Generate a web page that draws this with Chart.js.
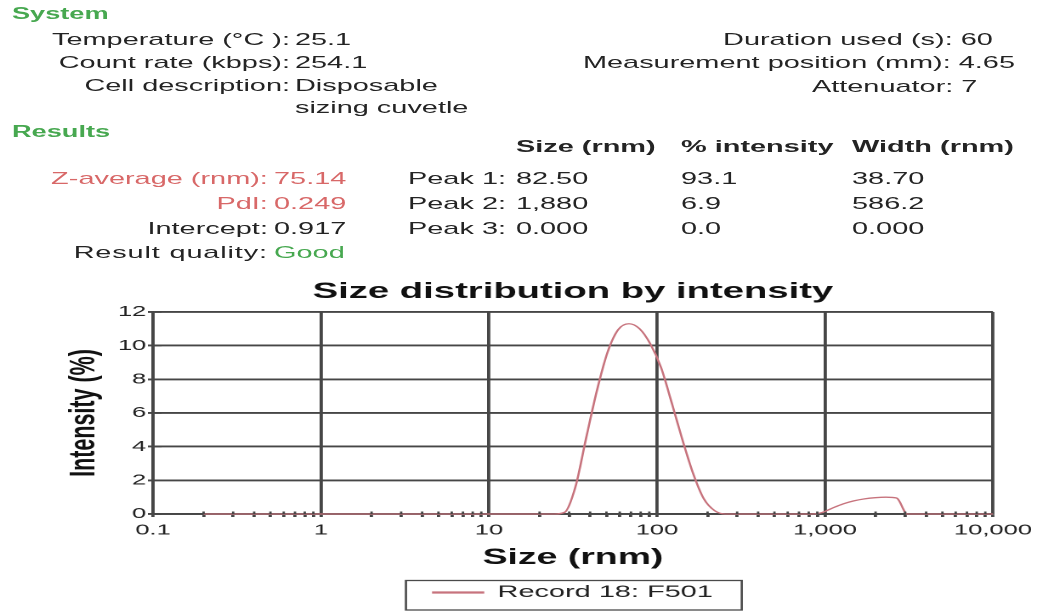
<!DOCTYPE html>
<html>
<head>
<meta charset="utf-8">
<script src="https://cdn.jsdelivr.net/npm/chart.js@4.4.1/dist/chart.umd.min.js"></script>
<style>
  html, body { margin: 0; padding: 0; background: #fff; overflow: hidden; width: 1040px; height: 611px; }
  /* report page is laid out narrow and widened horizontally */
  #page { position: absolute; left: 0; top: 0; width: 611.76px; height: 611px;
          transform: scaleX(1.7); transform-origin: 0 0;
          font-family: 'Liberation Sans', Arial, sans-serif; color: #242424; }
  .t { position: absolute; white-space: nowrap; font-size: 17px; line-height: 20px; height: 20px; }
  .ra { transform: translateX(-100%); }
  .b { font-weight: bold; }
  .sec { font-size: 16px; font-weight: bold; color: #47a850; }
  .g { color: #47a850; }
  .red { color: #d86868; }
  .wide { letter-spacing: 0.5px; }
  #plot { position: absolute; left: 20px; top: 270px; }
</style>
</head>
<body>
<div id="page">
  <div class="t sec" style="left:7px;top:4px;">System</div>
  <div class="t ra" style="left:170.6px;top:30px;">Temperature (°C ):</div>
  <div class="t" style="left:173.5px;top:30px;">25.1</div>
  <div class="t ra" style="left:170.6px;top:53px;">Count rate (kbps):</div>
  <div class="t" style="left:173.5px;top:53px;">254.1</div>
  <div class="t ra" style="left:170.6px;top:76px;">Cell description:</div>
  <div class="t" style="left:173.5px;top:76px;">Disposable</div>
  <div class="t" style="left:173.5px;top:98px;">sizing cuvetle</div>

  <div class="t" style="left:425.3px;top:30px;">Duration used (s): 60</div>
  <div class="t" style="left:342.9px;top:53px;">Measurement position (mm): 4.65</div>
  <div class="t" style="left:477.6px;top:77px;">Attenuator: 7</div>

  <div class="t sec" style="left:7px;top:122px;">Results</div>
  <div class="t b" style="left:303.5px;top:137px;">Size (rnm)</div>
  <div class="t b" style="left:400.6px;top:137px;">% intensity</div>
  <div class="t b" style="left:501.2px;top:137px;">Width (rnm)</div>

  <div class="t ra red" style="left:157.6px;top:169px;">Z-average (rnm):</div>
  <div class="t red" style="left:161.2px;top:169px;">75.14</div>
  <div class="t ra red" style="left:157.6px;top:194px;">PdI:</div>
  <div class="t red" style="left:161.2px;top:194px;">0.249</div>
  <div class="t ra" style="left:157.6px;top:219px;">Intercept:</div>
  <div class="t" style="left:161.2px;top:219px;">0.917</div>
  <div class="t ra wide" style="left:157.6px;top:243px;">Result quality:</div>
  <div class="t g" style="left:161.2px;top:243px;">Good</div>

  <div class="t" style="left:240px;top:169px;">Peak 1:</div>
  <div class="t" style="left:303.5px;top:169px;">82.50</div>
  <div class="t" style="left:400.6px;top:169px;">93.1</div>
  <div class="t" style="left:501.2px;top:169px;">38.70</div>
  <div class="t" style="left:240px;top:194px;">Peak 2:</div>
  <div class="t" style="left:303.5px;top:194px;">1,880</div>
  <div class="t" style="left:400.6px;top:194px;">6.9</div>
  <div class="t" style="left:501.2px;top:194px;">586.2</div>
  <div class="t" style="left:240px;top:219px;">Peak 3:</div>
  <div class="t" style="left:303.5px;top:219px;">0.000</div>
  <div class="t" style="left:400.6px;top:219px;">0.0</div>
  <div class="t" style="left:501.2px;top:219px;">0.000</div>

  <canvas id="plot" width="600" height="341"></canvas>
</div>

<script>
// Size classes (nm) and intensity (%) of record 18
const sizes = [0.2, 0.4, 1, 5, 10, 18.17, 21.04, 24.36, 28.21, 32.67, 37.84, 43.82,
  50.75, 58.77, 68.06, 78.82, 91.28, 105.7, 122.4, 141.8, 164.2, 190.1, 220.2,
  255.0, 295.3, 396.1, 531.2, 712.4, 825.0, 955.4, 1106, 1281, 1484, 1718, 1990,
  2305, 2669, 3091, 3580, 5560, 10000];
const intensity = [0, 0, 0, 0, 0, 0, 0, 0, 0.1, 1.6, 4.5, 7.3,
  9.6, 10.95, 11.3, 11.0, 10.1, 8.7, 6.6, 4.4, 2.4, 0.9, 0.2,
  0, 0, 0, 0, 0, 0, 0.08, 0.35, 0.6, 0.78, 0.9, 0.97,
  1.0, 0.95, 0, 0, 0, 0];
const recordName = 'Record 18: F501';

const xTickValues = [0.1, 1, 10, 100, 1000, 10000];
const xTickLabels = ['0.1', '1', '10', '100', '1,000', '10,000'];
const yTickValues = [0, 2, 4, 6, 8, 10, 12];
const yTickLabels = ['0', '2', '4', '6', '8', '10', '12'];

const GRID = '#464646';
const LINE = '#c7737d';
const FONT = "'Liberation Sans', Arial, sans-serif";
Chart.defaults.font.family = FONT;

const points = sizes.map((s, i) => ({ x: s, y: intensity[i] }));

// short inward tick marks on both axes
const innerTicks = {
  id: 'innerTicks',
  afterDatasetsDraw(chart) {
    const { ctx, chartArea: a, scales: { x, y } } = chart;
    ctx.save();
    ctx.strokeStyle = GRID;
    ctx.lineWidth = 1.4;
    ctx.beginPath();
    y.ticks.forEach(t => {
      const py = y.getPixelForValue(t.value);
      ctx.moveTo(a.left, py); ctx.lineTo(a.left + 5, py);
    });
    x.ticks.forEach(t => {
      if (t.major) return;
      const px = x.getPixelForValue(t.value);
      ctx.moveTo(px, a.bottom); ctx.lineTo(px, a.bottom - 2.5);
    });
    ctx.stroke();
    ctx.restore();
  }
};

// frame around the legend
const legendFrame = {
  id: 'legendFrame',
  afterDraw(chart) {
    const lg = chart.legend;
    if (!lg || !lg.legendHitBoxes || !lg.legendHitBoxes.length) return;
    const hb = lg.legendHitBoxes[0];
    const { ctx } = chart;
    ctx.save();
    ctx.strokeStyle = '#4a4a4a';
    ctx.lineWidth = 1.3;
    ctx.strokeRect(hb.left - 16, lg.top + 0.5, hb.width + 33, lg.height - 1.5);
    ctx.restore();
  }
};

new Chart(document.getElementById('plot'), {
  type: 'line',
  data: {
    datasets: [{
      label: recordName,
      data: points,
      borderColor: LINE,
      backgroundColor: LINE,
      borderWidth: 1.3,
      pointRadius: 0,
      cubicInterpolationMode: 'monotone',
      clip: 4
    }]
  },
  options: {
    responsive: false,
    animation: false,
    devicePixelRatio: 2,
    layout: { padding: { left: 0, right: 35.9, top: 0, bottom: 0 } },
    plugins: {
      title: {
        display: true,
        fullSize: false,
        text: 'Size distribution by intensity',
        color: '#111',
        font: { size: 22.5, weight: 'bold' },
        padding: { top: 8.5, bottom: 6.5 }
      },
      legend: {
        position: 'bottom',
        fullSize: false,
        labels: {
          color: '#222',
          font: { size: 17 },
          boxWidth: 29.4,
          boxHeight: 1,
          padding: 4
        }
      },
      tooltip: { enabled: false }
    },
    scales: {
      x: {
        type: 'logarithmic',
        min: 0.1,
        max: 10000,
        afterBuildTicks(scale) {
          const t = [];
          xTickValues.forEach((v, i) => {
            t.push({ value: v, major: true });
            if (i < xTickValues.length - 1) {
              for (let k = 2; k <= 9; k++) t.push({ value: v * k, major: false });
            }
          });
          scale.ticks = t;
        },
        afterFit(scale) { scale.height = 66; },
        ticks: {
          autoSkip: false,
          maxRotation: 0,
          minRotation: 0,
          padding: 4.5,
          color: '#222',
          font: { size: 15 },
          callback(value, index, ticks) {
            if (!ticks[index].major) return '';
            const i = xTickValues.indexOf(value);
            return i >= 0 ? xTickLabels[i] : '';
          }
        },
        grid: {
          color: c => (c.tick && c.tick.major) ? GRID : 'rgba(0,0,0,0)',
          tickColor: GRID,
          lineWidth: 1.9,
          tickLength: 3
        },
        border: { display: true, color: GRID, width: 1.9 },
        title: {
          display: true,
          text: 'Size (rnm)',
          color: '#111',
          font: { size: 22, weight: 'bold' },
          padding: { top: 0, bottom: 8.8 }
        }
      },
      y: {
        type: 'linear',
        min: 0,
        max: 12,
        afterBuildTicks(scale) {
          const t = [];
          yTickValues.forEach((v, i) => {
            t.push({ value: v, major: true });
            if (i < yTickValues.length - 1) t.push({ value: v + 1, major: false });
          });
          scale.ticks = t;
        },
        afterFit(scale) { scale.width = 70; },
        ticks: {
          padding: 1,
          color: '#222',
          font: { size: 15 },
          callback(value) {
            const i = yTickValues.indexOf(value);
            return i >= 0 ? yTickLabels[i] : '';
          }
        },
        grid: {
          color: c => (c.tick && c.tick.major) ? GRID : 'rgba(0,0,0,0)',
          tickColor: GRID,
          lineWidth: 1.9,
          tickLength: 3
        },
        border: { display: true, color: GRID, width: 1.9 },
        title: {
          display: true,
          text: 'Intensity (%)',
          color: '#111',
          font: { size: 21.5, weight: 'bold' },
          padding: { top: 16.5, bottom: 0 }
        }
      }
    }
  },
  plugins: [innerTicks, legendFrame]
});
</script>
</body>
</html>
